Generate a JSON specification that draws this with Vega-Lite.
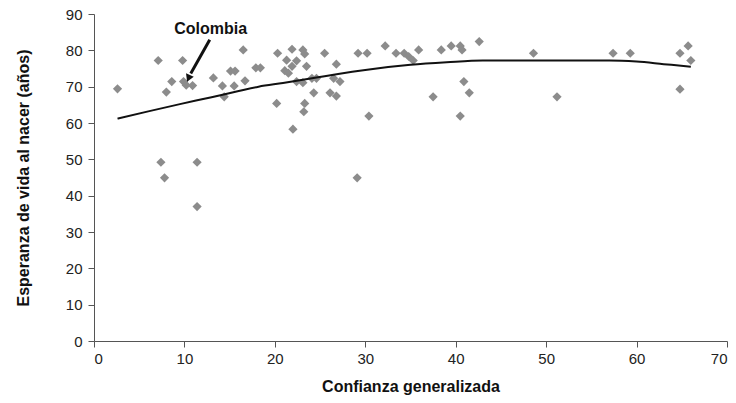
{
  "$schema": "https://vega.github.io/schema/vega-lite/v6.json",
  "width": 633,
  "height": 327,
  "autosize": {"type": "none"},
  "padding": {"left": 94, "top": 14, "right": 9, "bottom": 62},
  "config": {
    "view": {"stroke": null},
    "font": "Liberation Sans",
    "axis": {
      "grid": false,
      "domainColor": "#555555",
      "tickColor": "#555555",
      "labelColor": "#222222",
      "titleColor": "#111111",
      "labelFont": "Liberation Sans",
      "titleFont": "Liberation Sans",
      "labelFontSize": 15,
      "titleFontSize": 16,
      "titleFontWeight": "bold",
      "tickSize": 6,
      "domainWidth": 1,
      "tickWidth": 1,
      "labelOverlap": false
    }
  },
  "datasets": {
    "pts": [
      {"conf": 2.6, "vida": 69.4}, {"conf": 7.1, "vida": 77.2}, {"conf": 7.4, "vida": 49.2},
      {"conf": 7.8, "vida": 44.9}, {"conf": 8.0, "vida": 68.5}, {"conf": 8.6, "vida": 71.4},
      {"conf": 9.8, "vida": 77.2}, {"conf": 9.9, "vida": 71.4}, {"conf": 10.2, "vida": 70.4},
      {"conf": 10.9, "vida": 70.3}, {"conf": 11.4, "vida": 49.2}, {"conf": 11.4, "vida": 37.0},
      {"conf": 13.2, "vida": 72.4}, {"conf": 14.2, "vida": 70.2}, {"conf": 14.4, "vida": 67.2},
      {"conf": 15.1, "vida": 74.3}, {"conf": 15.6, "vida": 74.3}, {"conf": 15.5, "vida": 70.2},
      {"conf": 16.5, "vida": 80.1}, {"conf": 16.7, "vida": 71.6}, {"conf": 17.9, "vida": 75.2},
      {"conf": 18.4, "vida": 75.2}, {"conf": 20.2, "vida": 65.4}, {"conf": 20.3, "vida": 79.2},
      {"conf": 21.1, "vida": 74.4}, {"conf": 21.5, "vida": 73.7}, {"conf": 21.3, "vida": 77.3},
      {"conf": 21.9, "vida": 80.3}, {"conf": 21.9, "vida": 75.6}, {"conf": 22.0, "vida": 58.3},
      {"conf": 22.4, "vida": 77.1}, {"conf": 22.4, "vida": 71.4}, {"conf": 23.1, "vida": 80.1},
      {"conf": 23.3, "vida": 79.0}, {"conf": 23.1, "vida": 71.1}, {"conf": 23.3, "vida": 65.4},
      {"conf": 23.2, "vida": 63.1}, {"conf": 23.5, "vida": 75.6}, {"conf": 24.1, "vida": 72.3},
      {"conf": 24.6, "vida": 72.3}, {"conf": 24.3, "vida": 68.3}, {"conf": 25.5, "vida": 79.2},
      {"conf": 26.1, "vida": 68.3}, {"conf": 26.5, "vida": 72.3}, {"conf": 26.8, "vida": 67.4},
      {"conf": 26.8, "vida": 76.2}, {"conf": 27.2, "vida": 71.4}, {"conf": 29.1, "vida": 44.9},
      {"conf": 29.2, "vida": 79.2}, {"conf": 30.2, "vida": 79.2}, {"conf": 30.4, "vida": 61.9},
      {"conf": 32.2, "vida": 81.2}, {"conf": 33.4, "vida": 79.2}, {"conf": 34.3, "vida": 79.2},
      {"conf": 34.8, "vida": 78.3}, {"conf": 35.3, "vida": 77.2}, {"conf": 35.9, "vida": 80.1},
      {"conf": 37.5, "vida": 67.2}, {"conf": 38.4, "vida": 80.1}, {"conf": 39.5, "vida": 81.2},
      {"conf": 40.5, "vida": 81.2}, {"conf": 40.7, "vida": 80.1}, {"conf": 40.9, "vida": 71.4},
      {"conf": 41.5, "vida": 68.3}, {"conf": 40.5, "vida": 61.9}, {"conf": 42.6, "vida": 82.4},
      {"conf": 48.6, "vida": 79.2}, {"conf": 51.2, "vida": 67.2}, {"conf": 57.4, "vida": 79.2},
      {"conf": 59.3, "vida": 79.2}, {"conf": 64.8, "vida": 79.2}, {"conf": 65.7, "vida": 81.2},
      {"conf": 66.0, "vida": 77.2}, {"conf": 64.8, "vida": 69.3}
    ],
    "fit": [
      {"conf": 2.6, "vida": 61.2}, {"conf": 6, "vida": 63.2}, {"conf": 9.5, "vida": 65.2},
      {"conf": 13, "vida": 67.1}, {"conf": 16, "vida": 68.8}, {"conf": 18.2, "vida": 70.0},
      {"conf": 20.9, "vida": 71.0}, {"conf": 24.6, "vida": 72.5}, {"conf": 27, "vida": 73.5},
      {"conf": 30, "vida": 74.6}, {"conf": 35, "vida": 76.0}, {"conf": 39, "vida": 76.7},
      {"conf": 43, "vida": 77.2}, {"conf": 50, "vida": 77.2}, {"conf": 57, "vida": 77.2},
      {"conf": 60, "vida": 76.9}, {"conf": 63, "vida": 76.2}, {"conf": 66.0, "vida": 75.5}
    ],
    "arrow": [
      {"conf": 12.8, "vida": 82.9, "conf2": 10.7, "vida2": 73.6}
    ],
    "head": [
      {"conf": 10.5, "vida": 72.6}
    ],
    "label": [
      {"conf": 12.9, "vida": 85.9, "t": "Colombia"}
    ]
  },
  "encoding": {
    "x": {"field": "conf", "type": "quantitative", "scale": {"domain": [0, 70], "nice": false},
          "axis": {"values": [0, 10, 20, 30, 40, 50, 60, 70], "title": "Confianza generalizada", "labelPadding": 4, "titlePadding": 12}},
    "y": {"field": "vida", "type": "quantitative", "scale": {"domain": [0, 90], "nice": false},
          "axis": {"values": [0, 10, 20, 30, 40, 50, 60, 70, 80, 90], "title": "Esperanza de vida al nacer (años)", "labelPadding": 6, "titlePadding": 34}}
  },
  "layer": [
    {
      "data": {"name": "pts"},
      "mark": {"type": "point", "shape": "diamond", "filled": true, "size": 85, "color": "#8c8c8c", "opacity": 1}
    },
    {
      "data": {"name": "fit"},
      "mark": {"type": "line", "color": "#111111", "strokeWidth": 2, "interpolate": "monotone"}
    },
    {
      "data": {"name": "arrow"},
      "mark": {"type": "rule", "color": "#111111", "strokeWidth": 3},
      "encoding": {
        "x2": {"field": "conf2"},
        "y2": {"field": "vida2"}
      }
    },
    {
      "data": {"name": "head"},
      "mark": {"type": "point", "shape": "triangle", "filled": true, "size": 70, "color": "#111111", "opacity": 1, "angle": 203}
    },
    {
      "data": {"name": "label"},
      "mark": {"type": "text", "fontSize": 16, "fontWeight": "bold", "color": "#111111", "font": "Liberation Sans", "baseline": "middle", "align": "center"},
      "encoding": {
        "text": {"field": "t"}
      }
    }
  ]
}
